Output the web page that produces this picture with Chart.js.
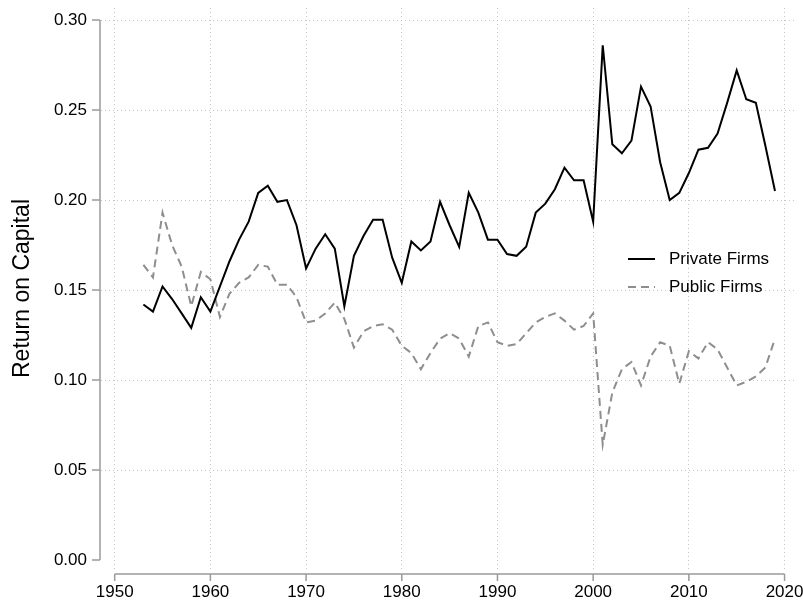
<!DOCTYPE html>
<html>
<head>
<meta charset="utf-8">
<script src="https://cdn.jsdelivr.net/npm/chart.js@4.4.0/dist/chart.umd.min.js"></script>
<style>
    html, body { margin: 0; padding: 0; background: #fff; }
</style>
</head>
<body>
<canvas id="chart" width="803" height="604"></canvas>
<script>
// data
let years = [1953, 1954, 1955, 1956, 1957, 1958, 1959, 1960, 1961, 1962,
    1963, 1964, 1965, 1966, 1967, 1968, 1969, 1970, 1971, 1972,
    1973, 1974, 1975, 1976, 1977, 1978, 1979, 1980, 1981, 1982,
    1983, 1984, 1985, 1986, 1987, 1988, 1989, 1990, 1991, 1992,
    1993, 1994, 1995, 1996, 1997, 1998, 1999, 2000, 2001, 2002,
    2003, 2004, 2005, 2006, 2007, 2008, 2009, 2010, 2011, 2012,
    2013, 2014, 2015, 2016, 2017, 2018, 2019]

let privateFirms = [0.142, 0.138, 0.152, 0.145, 0.137, 0.129, 0.146, 0.138, 0.152, 0.166,
    0.178, 0.188, 0.204, 0.208, 0.199, 0.200, 0.186, 0.162, 0.173, 0.181,
    0.173, 0.141, 0.169, 0.180, 0.189, 0.189, 0.168, 0.154, 0.177, 0.172,
    0.177, 0.199, 0.186, 0.174, 0.204, 0.193, 0.178, 0.178, 0.170, 0.169,
    0.174, 0.193, 0.198, 0.206, 0.218, 0.211, 0.211, 0.188, 0.286, 0.231,
    0.226, 0.233, 0.263, 0.252, 0.221, 0.200, 0.204, 0.215, 0.228, 0.229,
    0.237, 0.254, 0.272, 0.256, 0.254, 0.230, 0.205]

let publicFirms = [0.164, 0.157, 0.193, 0.175, 0.163, 0.141, 0.160, 0.156, 0.135, 0.148,
    0.154, 0.157, 0.164, 0.163, 0.153, 0.153, 0.146, 0.132, 0.133, 0.137,
    0.143, 0.134, 0.118, 0.127, 0.130, 0.131, 0.128, 0.119, 0.115, 0.106,
    0.115, 0.123, 0.126, 0.123, 0.113, 0.130, 0.132, 0.121, 0.119, 0.120,
    0.126, 0.132, 0.135, 0.137, 0.133, 0.128, 0.130, 0.137, 0.064, 0.093,
    0.106, 0.110, 0.097, 0.113, 0.121, 0.119, 0.098, 0.116, 0.112, 0.121,
    0.117, 0.107, 0.097, 0.099, 0.102, 0.107, 0.123]

let xTicks = [1950, 1960, 1970, 1980, 1990, 2000, 2010, 2020]
let yTicks = [0.00, 0.05, 0.10, 0.15, 0.20, 0.25, 0.30]

let fontFamily = "'Liberation Sans', Arial, Helvetica, sans-serif"
let axisGrey = '#9a9a9a'
let gridGrey = '#c4c4c4'

// labels are allowed to hang over the plot edge, like stata does
let noLabelPadding = (scale) => {
    scale.paddingTop = 0
    scale.paddingBottom = 0
    scale.paddingLeft = 0
    scale.paddingRight = 0
}

// stata style axes: lines only from first to last tick, sitting just off the plot region
let axisLines = {
    id: 'axisLines',
    afterDraw(chart) {
        let { ctx, scales: { x, y } } = chart
        ctx.save()
        ctx.strokeStyle = axisGrey
        ctx.lineWidth = 1.5

        let yx = x.left - 1
        ctx.beginPath()
        ctx.moveTo(yx, y.getPixelForValue(yTicks[0]))
        ctx.lineTo(yx, y.getPixelForValue(yTicks[yTicks.length - 1]))
        for (let t of yTicks) {
            let py = y.getPixelForValue(t)
            ctx.moveTo(yx, py)
            ctx.lineTo(yx - 8, py)
        }

        let xy = y.bottom + 5
        ctx.moveTo(x.getPixelForValue(xTicks[0]), xy)
        ctx.lineTo(x.getPixelForValue(xTicks[xTicks.length - 1]), xy)
        for (let t of xTicks) {
            let px = x.getPixelForValue(t)
            ctx.moveTo(px, xy)
            ctx.lineTo(px, xy + 7)
        }
        ctx.stroke()
        ctx.restore()
    }
}

// legend inside the plot region, right side
let insideLegend = {
    id: 'insideLegend',
    afterDraw(chart) {
        let { ctx } = chart
        let left = 628
        let top = 259
        ctx.save()
        ctx.font = `17px ${fontFamily}`
        ctx.textBaseline = 'middle'
        ctx.textAlign = 'left'
        chart.data.datasets.forEach((ds, i) => {
            let ly = top + i * 28
            ctx.strokeStyle = ds.borderColor
            ctx.lineWidth = ds.borderWidth
            ctx.setLineDash(ds.borderDash || [])
            ctx.beginPath()
            ctx.moveTo(left, ly)
            ctx.lineTo(left + 27, ly)
            ctx.stroke()
            ctx.setLineDash([])
            ctx.fillStyle = '#000'
            ctx.fillText(ds.label, left + 41, ly)
        })
        ctx.restore()
    }
}

let config = {
    type: 'line',
    data: {
        datasets: [{
            label: 'Private Firms',
            data: years.map((yr, i) => ({ x: yr, y: privateFirms[i] })),
            borderColor: '#000000',
            borderWidth: 2,
            pointRadius: 0,
            tension: 0
        }, {
            label: 'Public Firms',
            data: years.map((yr, i) => ({ x: yr, y: publicFirms[i] })),
            borderColor: '#8e8e8e',
            borderWidth: 2,
            borderDash: [8, 5],
            pointRadius: 0,
            tension: 0
        }]
    },
    options: {
        responsive: false,
        animation: false,
        devicePixelRatio: 1,
        layout: { padding: { top: 8, right: 6, left: 0, bottom: 0 } },
        plugins: {
            legend: { display: false },
            tooltip: { enabled: false }
        },
        scales: {
            x: {
                type: 'linear',
                min: 1948.57,
                max: 2021.3,
                afterFit: (scale) => {
                    scale.height = 35
                    noLabelPadding(scale)
                },
                afterBuildTicks: (scale) => { scale.ticks = xTicks.map(v => ({ value: v })) },
                grid: { color: gridGrey, lineWidth: 1, drawTicks: false },
                border: { display: false, dash: [1, 3] },
                ticks: {
                    color: '#000',
                    font: { family: fontFamily, size: 17 },
                    padding: 13,
                    maxRotation: 0,
                    autoSkip: false,
                    callback: (v) => String(v)
                }
            },
            y: {
                min: -0.005,
                max: 0.3067,
                afterFit: (scale) => {
                    scale.width = 101
                    noLabelPadding(scale)
                },
                afterBuildTicks: (scale) => { scale.ticks = yTicks.map(v => ({ value: v })) },
                grid: {
                    color: (c) => c.tick && c.tick.value === 0 ? 'rgba(0,0,0,0)' : gridGrey,
                    lineWidth: 1,
                    drawTicks: false
                },
                border: { display: false, dash: [1, 3] },
                ticks: {
                    color: '#000',
                    font: { family: fontFamily, size: 17 },
                    padding: 14,
                    callback: (v) => v.toFixed(2)
                },
                title: {
                    display: true,
                    text: 'Return on Capital',
                    color: '#000',
                    font: { family: fontFamily, size: 23 },
                    padding: { top: 9, bottom: 0 }
                }
            }
        }
    },
    plugins: [axisLines, insideLegend]
}

new Chart(document.getElementById('chart'), config)
</script>
</body>
</html>
